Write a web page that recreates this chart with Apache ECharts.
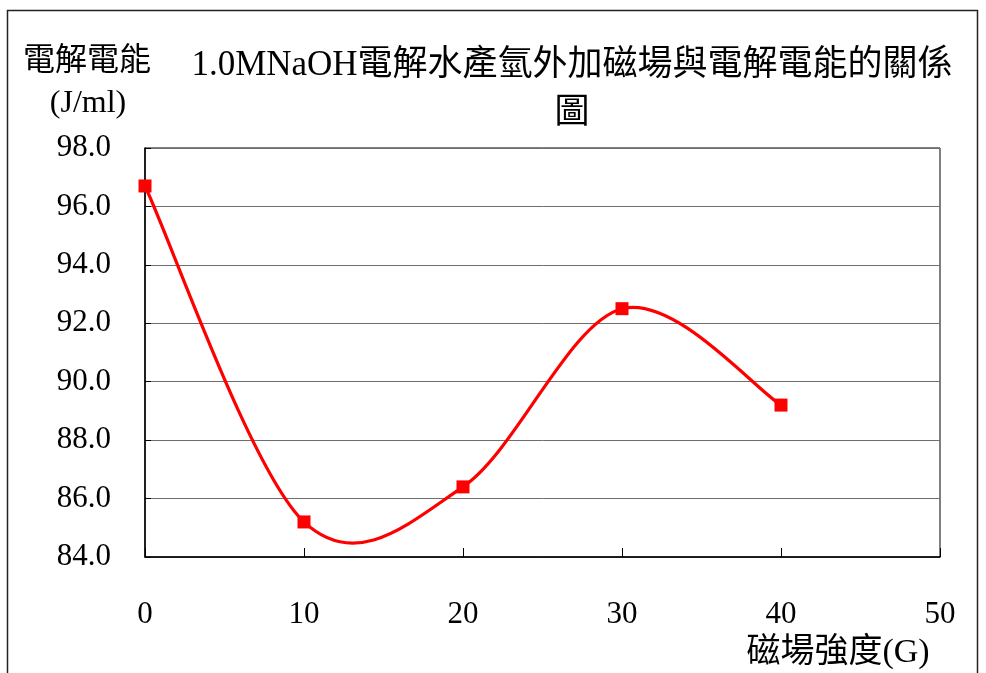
<!DOCTYPE html>
<html>
<head>
<meta charset="utf-8">
<script src="https://cdn.jsdelivr.net/npm/echarts@6/dist/echarts.min.js"></script>
<style>
  html, body { margin: 0; padding: 0; background: #fff; }
  #chart { width: 986px; height: 673px; }
</style>
</head>
<body>
<div id="chart"></div>
<script>
// Magnetic field strength (G) and electrolysis energy (J/ml), 1.0 M NaOH
const fieldStrength = [0, 10, 20, 30, 40];
const energy = [96.7, 85.2, 86.4, 92.5, 89.2];
const xTicks = [0, 50, 10];      // min, max, interval
const yTicks = [84, 98, 2];      // min, max, interval

const titleText = '1.0MNaOH電解水產氫外加磁場與電解電能的關係\n圖';
const yNameLines = ['電解電能', '(J/ml)'];
const xName = '磁場強度(G)';

const FONT = "'Liberation Serif', 'Noto Sans CJK TC', serif";
const RED = '#ff0000';

const points = fieldStrength.map((x, i) => [x, energy[i]]);

// Cardinal (Catmull-Rom style) spline segment between point i and i+1,
// control points taken at 1/6 of the neighbour chord, in pixel space.
function renderSegment(params, api) {
  const i = params.dataIndexInside;
  const n = params.dataInsideLength;
  if (i >= n - 1) return null;
  const pt = k => {
    const kk = Math.max(0, Math.min(n - 1, k));
    return api.coord([api.value(0, kk), api.value(1, kk)]);
  };
  const p0 = pt(i - 1), p1 = pt(i), p2 = pt(i + 1), p3 = pt(i + 2);
  const c1 = [p1[0] + (p2[0] - p0[0]) / 6, p1[1] + (p2[1] - p0[1]) / 6];
  const c2 = [p2[0] - (p3[0] - p1[0]) / 6, p2[1] - (p3[1] - p1[1]) / 6];
  return {
    type: 'bezierCurve',
    shape: {
      x1: p1[0], y1: p1[1],
      x2: p2[0], y2: p2[1],
      cpx1: c1[0], cpy1: c1[1],
      cpx2: c2[0], cpy2: c2[1]
    },
    style: { stroke: RED, lineWidth: 3.2, fill: null, lineCap: 'round' },
    silent: true
  };
}

const chart = echarts.init(document.getElementById('chart'), null, { renderer: 'canvas' });

chart.setOption({
  animation: false,
  backgroundColor: '#fff',
  textStyle: { fontFamily: FONT, color: '#000' },
  title: {
    text: titleText,
    left: 567,
    top: 37,
    textAlign: 'center',
    textStyle: {
      fontFamily: FONT,
      fontSize: 35,
      fontWeight: 'normal',
      color: '#000',
      lineHeight: 48,
      align: 'center'
    }
  },
  graphic: [
    {
      type: 'rect',
      shape: { x: 7.5, y: 10.5, width: 970, height: 700 },
      style: { fill: 'none', stroke: '#222', lineWidth: 1.5 },
      silent: true
    },
    {
      type: 'text',
      x: 87, y: 62,
      style: {
        text: yNameLines[0],
        font: '32px ' + FONT,
        fill: '#000',
        align: 'center',
        verticalAlign: 'middle'
      }
    },
    {
      type: 'text',
      x: 88, y: 104,
      style: {
        text: yNameLines[1],
        font: '32px ' + FONT,
        fill: '#000',
        align: 'center',
        verticalAlign: 'middle'
      }
    },
    {
      type: 'text',
      x: 838, y: 653,
      style: {
        text: xName,
        font: '34px ' + FONT,
        fill: '#000',
        align: 'center',
        verticalAlign: 'middle'
      }
    }
  ],
  grid: {
    left: 145,
    right: 46,
    top: 148,
    bottom: 116,
    show: true,
    borderColor: '#000',
    borderWidth: 1,
    backgroundColor: 'transparent'
  },
  xAxis: {
    type: 'value',
    min: xTicks[0],
    max: xTicks[1],
    interval: xTicks[2],
    axisLine: { onZero: false, lineStyle: { color: '#000', width: 1.5 } },
    axisTick: { inside: true, length: 9, lineStyle: { color: '#000', width: 1 } },
    axisLabel: {
      margin: 42,
      fontSize: 31,
      fontFamily: FONT,
      color: '#000'
    },
    splitLine: { show: false }
  },
  yAxis: {
    type: 'value',
    min: yTicks[0],
    max: yTicks[1],
    interval: yTicks[2],
    axisLine: { show: true, lineStyle: { color: '#000', width: 1.5 } },
    axisTick: { show: true, inside: true, length: 6, lineStyle: { color: '#000', width: 1 } },
    axisLabel: {
      margin: 34,
      fontSize: 31,
      fontFamily: FONT,
      color: '#000',
      formatter: v => v.toFixed(1)
    },
    splitLine: { show: true, lineStyle: { color: '#6e6e6e', width: 1 } }
  },
  series: [
    {
      type: 'custom',
      data: points,
      renderItem: renderSegment,
      clip: false,
      z: 3
    },
    {
      type: 'scatter',
      data: points,
      symbol: 'rect',
      symbolSize: 13,
      itemStyle: { color: RED, opacity: 1 },
      clip: false,
      z: 4
    }
  ]
});
</script>
</body>
</html>
